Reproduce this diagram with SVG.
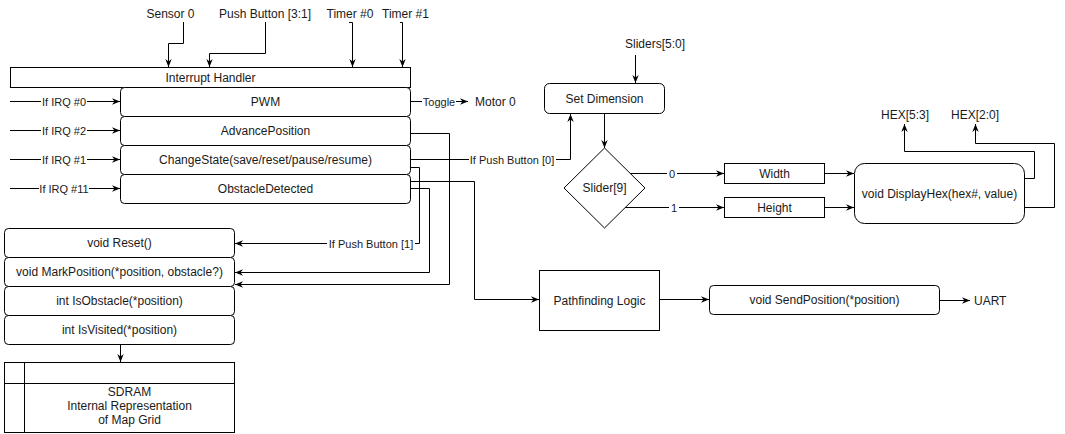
<svg xmlns="http://www.w3.org/2000/svg" width="1065" height="434" viewBox="0 0 1065 434">
  <defs>
    <marker id="arrow" viewBox="0 0 10 10" refX="10" refY="5" markerWidth="8" markerHeight="8" markerUnits="userSpaceOnUse" orient="auto">
      <path d="M0,1 L10,5 L0,9 L3,5 Z" fill="#000"/>
    </marker>
  </defs>
  <style>
    text { font-family: "Liberation Sans", Arial, sans-serif; font-size: 12px; fill: #1a1a1a; }
    .c { text-anchor: middle; }
    .lbl { font-size: 11px; text-anchor: middle; }
    .box { fill: #fff; stroke: #000; stroke-width: 1; }
    .ln { fill: none; stroke: #000; stroke-width: 1; }
    .arr { fill: none; stroke: #000; stroke-width: 1; marker-end: url(#arrow); }
    .bg { fill: #fff; }
  </style>

  <rect width="1065" height="434" fill="#fff"/>

  <!-- connectors -->
  <g id="connectors">
    <!-- external inputs into the interrupt handler -->
    <path class="arr" d="M183.5,22 V43.5 H168.5 V67"/>
    <path class="arr" d="M265.5,22 V53.5 H209.5 V67"/>
    <path class="arr" d="M349,22.5 H352.5 V67"/>
    <path class="arr" d="M400,22.5 H402.5 V67"/>

    <!-- IRQ dispatch -->
    <path class="arr" d="M10,101.5 H120"/>
    <path class="arr" d="M10,130.5 H120"/>
    <path class="arr" d="M10,159.5 H120"/>
    <path class="arr" d="M10,188.5 H120"/>

    <!-- PWM to motor -->
    <path class="arr" d="M410.5,101.5 H468"/>

    <!-- handlers to map functions / pathfinding -->
    <path class="arr" d="M410.5,133.5 H449.5 V284.5 H235"/>
    <path class="arr" d="M410.5,159.5 H570.5 V114"/>
    <path class="arr" d="M410.5,167.5 H419.5 V243.5 H235"/>
    <path class="arr" d="M410.5,181.5 H474.5 V299.5 H539"/>
    <path class="arr" d="M410.5,188.5 H429.5 V272.5 H235"/>

    <!-- map grid storage -->
    <path class="arr" d="M120.5,345 V362"/>

    <!-- dimension / display chain -->
    <path class="arr" d="M635.5,55 V83"/>
    <path class="arr" d="M604.5,113.5 V148"/>
    <path class="arr" d="M630,173.5 H724"/>
    <path class="arr" d="M625,207.5 H724"/>
    <path class="arr" d="M824.5,173.5 H854"/>
    <path class="arr" d="M824.5,207.5 H854"/>
    <path class="arr" d="M1024.5,178.5 H1034.5 V151.5 H904.5 V124"/>
    <path class="arr" d="M1024.5,207.5 H1054.5 V143.5 H975.5 V124"/>

    <!-- pathfinding output -->
    <path class="arr" d="M659.5,299.5 H709"/>
    <path class="arr" d="M939.5,300.5 H970"/>

    <!-- edge labels -->
    <rect class="bg" x="41" y="95" width="46" height="13"/>
    <text class="lbl" x="64" y="105.5">If IRQ #0</text>
    <rect class="bg" x="41" y="124" width="46" height="13"/>
    <text class="lbl" x="64" y="134.5">If IRQ #2</text>
    <rect class="bg" x="41" y="153" width="46" height="13"/>
    <text class="lbl" x="64" y="163.5">If IRQ #1</text>
    <rect class="bg" x="39" y="182" width="50" height="13"/>
    <text class="lbl" x="64" y="192.5">If IRQ #11</text>
    <rect class="bg" x="422" y="95" width="34" height="13"/>
    <text class="lbl" x="439" y="105.5">Toggle</text>
    <rect class="bg" x="469" y="153" width="87" height="13"/>
    <text class="lbl" x="512" y="163.5">If Push Button [0]</text>
    <rect class="bg" x="327" y="237" width="88" height="13"/>
    <text class="lbl" x="371" y="247.5">If Push Button [1]</text>
    <rect class="bg" x="667" y="167" width="10" height="13"/>
    <text class="lbl" x="672" y="177.5">0</text>
    <rect class="bg" x="669" y="201" width="10" height="13"/>
    <text class="lbl" x="674" y="211.5">1</text>
  </g>

  <!-- free-standing signal names -->
  <g id="signals">
    <text class="c" x="170.5" y="18">Sensor 0</text>
    <text class="c" x="265" y="18">Push Button [3:1]</text>
    <text class="c" x="350" y="18">Timer #0</text>
    <text class="c" x="405.5" y="18">Timer #1</text>
    <text x="475" y="106">Motor 0</text>
    <text class="c" x="655" y="48">Sliders[5:0]</text>
    <text class="c" x="905" y="119">HEX[5:3]</text>
    <text class="c" x="975" y="119">HEX[2:0]</text>
    <text x="974" y="305">UART</text>
  </g>

  <g id="interrupt-handler">
    <rect class="box" x="10.5" y="67.5" width="400" height="20"/>
    <text class="c" x="210.5" y="82">Interrupt Handler</text>
  </g>

  <g id="pwm">
    <rect class="box" x="120.5" y="87.5" width="290" height="29" rx="4"/>
    <text class="c" x="265.5" y="106">PWM</text>
  </g>
  <g id="advance-position">
    <rect class="box" x="120.5" y="116.5" width="290" height="29" rx="4"/>
    <text class="c" x="265.5" y="135">AdvancePosition</text>
  </g>
  <g id="change-state">
    <rect class="box" x="120.5" y="145.5" width="290" height="29" rx="4"/>
    <text class="c" x="265.5" y="164">ChangeState(save/reset/pause/resume)</text>
  </g>
  <g id="obstacle-detected">
    <rect class="box" x="120.5" y="174.5" width="290" height="29" rx="4"/>
    <text class="c" x="265.5" y="193">ObstacleDetected</text>
  </g>

  <g id="reset">
    <rect class="box" x="4.5" y="228.5" width="230" height="29" rx="4"/>
    <text class="c" x="119.5" y="247">void Reset()</text>
  </g>
  <g id="mark-position">
    <rect class="box" x="4.5" y="257.5" width="230" height="29" rx="4"/>
    <text class="c" x="119.5" y="276">void MarkPosition(*position, obstacle?)</text>
  </g>
  <g id="is-obstacle">
    <rect class="box" x="4.5" y="286.5" width="230" height="29" rx="4"/>
    <text class="c" x="119.5" y="305">int IsObstacle(*position)</text>
  </g>
  <g id="is-visited">
    <rect class="box" x="4.5" y="315.5" width="230" height="29" rx="4"/>
    <text class="c" x="119.5" y="334">int IsVisited(*position)</text>
  </g>

  <g id="sdram">
    <rect class="box" x="4.5" y="362.5" width="230" height="70"/>
    <path class="ln" d="M24.5,362.5 V432.5 M4.5,383.5 H234.5"/>
    <text class="c" x="129.5" y="396">SDRAM</text>
    <text class="c" x="129.5" y="410">Internal Representation</text>
    <text class="c" x="129.5" y="424">of Map Grid</text>
  </g>

  <g id="set-dimension">
    <rect class="box" x="544.5" y="83.5" width="120" height="30" rx="5"/>
    <text class="c" x="604.5" y="102.5">Set Dimension</text>
  </g>

  <g id="slider9">
    <polygon class="box" points="604.5,148 645,188 604.5,228 564,188"/>
    <text class="c" x="604.5" y="192">Slider[9]</text>
  </g>

  <g id="width">
    <rect class="box" x="724.5" y="163.5" width="100" height="20"/>
    <text class="c" x="774.5" y="178">Width</text>
  </g>
  <g id="height">
    <rect class="box" x="724.5" y="197.5" width="100" height="20"/>
    <text class="c" x="774.5" y="212">Height</text>
  </g>

  <g id="display-hex">
    <rect class="box" x="854.5" y="163.5" width="170" height="60" rx="10"/>
    <text class="c" x="939.5" y="197.5">void DisplayHex(hex#, value)</text>
  </g>

  <g id="pathfinding">
    <rect class="box" x="539.5" y="270.5" width="120" height="60"/>
    <text class="c" x="599.5" y="304.5">Pathfinding Logic</text>
  </g>

  <g id="send-position">
    <rect class="box" x="709.5" y="285.5" width="230" height="29" rx="4"/>
    <text class="c" x="824.5" y="304">void SendPosition(*position)</text>
  </g>
</svg>
